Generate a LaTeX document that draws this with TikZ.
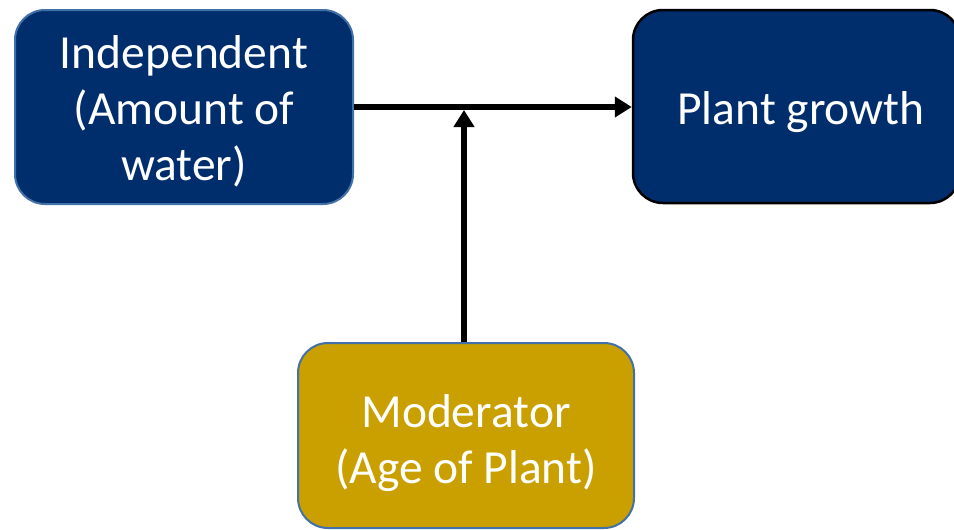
\documentclass[tikz,border=0pt]{standalone}
\usepackage{fontspec}
\setmainfont{Carlito}
\usetikzlibrary{arrows.meta}
\definecolor{navy}{RGB}{0,45,108}
\definecolor{gold}{RGB}{201,160,0}
\definecolor{edgeblue}{RGB}{65,113,166}
\tikzset{
  box/.style={rectangle, rounded corners=30pt, line width=2pt, inner sep=0pt},
  label/.style={text=white, align=center, inner sep=0pt,
    font=\fontsize{47.5pt}{56pt}\selectfont},
  link/.style={line width=5.5pt, -{Triangle[length=17pt,width=20pt]}}
}
\begin{document}
\begin{tikzpicture}[x=1pt,y=-1pt]
\useasboundingbox (0,0) rectangle (954,530);
\clip (0,0) rectangle (954,530);
% the three boxes
\node[box, fill=navy, draw=edgeblue, minimum width=338pt, minimum height=194pt]
  (ind) at (184,107) {};
\node[box, fill=navy, draw=black, line width=2.5pt, minimum width=327pt, minimum height=193pt]
  (dep) at (796.5,106.5) {};
\node[box, fill=gold, draw=edgeblue, minimum width=336pt, minimum height=185pt]
  (mod) at (466,435.5) {};
% their texts
\node[label] (indlabel) at (184,111) {Independent\\(Amount of\\water)};
\node[label] (deplabel) at (801,112) {Plant growth};
\node[label] (modlabel) at (466,443) {Moderator\\(Age of Plant)};
% connectors
\coordinate (meet) at (464,110);
\draw[link] (ind.east |- 0,107) -- (dep.west |- 0,107);
\draw[link] (mod.north -| meet) -- (meet);
\end{tikzpicture}
\end{document}
